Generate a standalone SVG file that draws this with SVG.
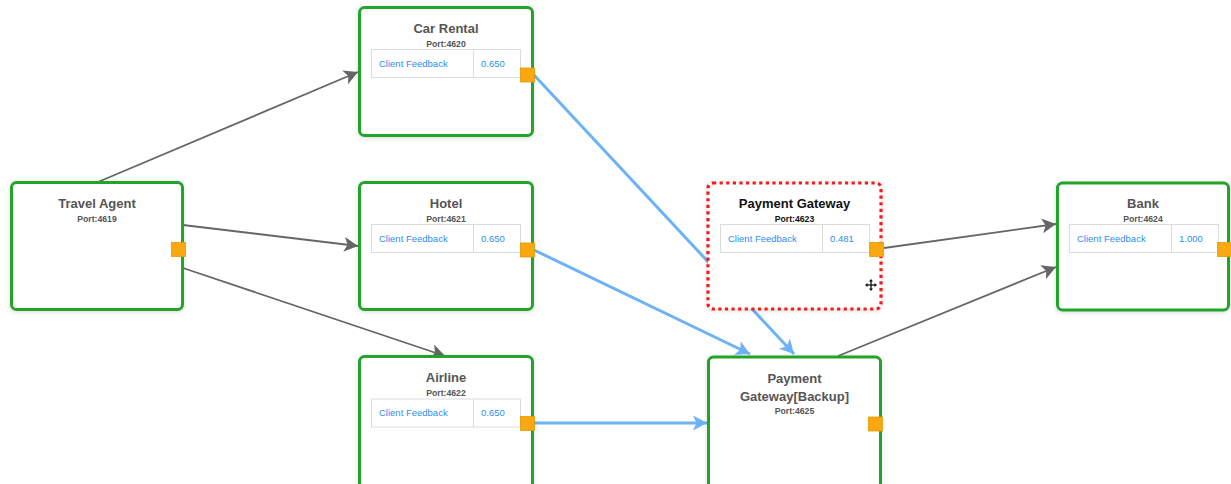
<svg xmlns="http://www.w3.org/2000/svg" width="1231" height="484" viewBox="0 0 1231 484">
<style>
.node{fill:#fff;stroke:#22a32a;stroke-width:3;filter:url(#sh)}
.sel{fill:#fff;stroke:#f21a1a;stroke-width:3.2;stroke-dasharray:3.2 3.4;filter:url(#sh)}
.title{font-family:"Liberation Sans",Arial,sans-serif;font-weight:bold;font-size:13px;fill:#555;text-anchor:middle}
.titleB{font-family:"Liberation Sans",Arial,sans-serif;font-weight:bold;font-size:13px;fill:#111;text-anchor:middle}
.port{font-family:"Liberation Sans",Arial,sans-serif;font-weight:bold;font-size:8.7px;fill:#555;text-anchor:middle}
.portB{font-family:"Liberation Sans",Arial,sans-serif;font-weight:bold;font-size:8.7px;fill:#111;text-anchor:middle}
.tbl{fill:#fff;stroke:#dcdcdc;stroke-width:1}
.cell{font-family:"Liberation Sans",Arial,sans-serif;font-size:9.5px;fill:#2b8ef0}
.sq{fill:#f9a90f;stroke:#e39a08;stroke-width:0.8}
.gray{fill:none;stroke:#666;stroke-width:1.8}
.blue{fill:none;stroke:#6cb2f5;stroke-width:3}
</style>
<defs>
<filter id="sh" x="-10%" y="-10%" width="120%" height="120%">
<feDropShadow dx="0" dy="1" stdDeviation="2" flood-color="#000" flood-opacity="0.15"/>
</filter>
<marker id="ag" markerUnits="userSpaceOnUse" markerWidth="18" markerHeight="18" refX="14" refY="7.5" orient="auto">
<path d="M0,0 L14,7.5 L0,15 L3.5,7.5 z" fill="#666"/>
</marker>
<marker id="ab" markerUnits="userSpaceOnUse" markerWidth="18" markerHeight="18" refX="14" refY="7.5" orient="auto">
<path d="M0,0 L14,7.5 L0,15 L3.5,7.5 z" fill="#6cb2f5"/>
</marker>
</defs>
<rect width="1231" height="484" fill="#fff"/>
<g id="connectors">
<path class="gray" d="M98,182 L358,72" marker-end="url(#ag)"/>
<path class="gray" d="M183,225 L358,246" marker-end="url(#ag)"/>
<path class="gray" d="M183,268 L445,356" marker-end="url(#ag)"/>
<path class="gray" d="M884,248 L1056,224" marker-end="url(#ag)"/>
<path class="gray" d="M838,356 L1056,267" marker-end="url(#ag)"/>
<path class="blue" d="M534,75 L794,354" marker-end="url(#ab)"/>
<path class="blue" d="M534,250 L750,354" marker-end="url(#ab)"/>
<path class="blue" d="M534,423 L707,423" marker-end="url(#ab)"/>
</g>
<g id="travel-agent">
<rect class="node" x="11.5" y="182.5" width="171" height="127" rx="5"/>
<text class="title" x="97" y="207.5">Travel Agent</text>
<text class="port" x="97" y="221.5">Port:4619</text>
<rect class="sq" x="171.5" y="242.5" width="14" height="14"/>
</g>
<g id="car-rental">
<rect class="node" x="359.5" y="7.5" width="173" height="128" rx="5"/>
<text class="title" x="446" y="33">Car Rental</text>
<text class="port" x="446" y="46.5">Port:4620</text>
<rect class="tbl" x="371.5" y="49.5" width="149" height="28"/>
<line x1="473.5" y1="49.5" x2="473.5" y2="77.5" stroke="#dcdcdc"/>
<text class="cell" x="379" y="66.5">Client Feedback</text>
<text class="cell" x="481" y="66.5">0.650</text>
<rect class="sq" x="520.5" y="68" width="14" height="14"/>
</g>
<g id="hotel">
<rect class="node" x="359.5" y="182.5" width="173" height="127" rx="5"/>
<text class="title" x="446" y="208">Hotel</text>
<text class="port" x="446" y="221.5">Port:4621</text>
<rect class="tbl" x="371.5" y="224.5" width="149" height="28"/>
<line x1="473.5" y1="224.5" x2="473.5" y2="252.5" stroke="#dcdcdc"/>
<text class="cell" x="379" y="241.5">Client Feedback</text>
<text class="cell" x="481" y="241.5">0.650</text>
<rect class="sq" x="520.5" y="243" width="14" height="14"/>
</g>
<g id="airline">
<rect class="node" x="359.5" y="356.5" width="173" height="140" rx="5"/>
<text class="title" x="446" y="382">Airline</text>
<text class="port" x="446" y="396">Port:4622</text>
<rect class="tbl" x="371.5" y="399" width="149" height="28"/>
<line x1="473.5" y1="399" x2="473.5" y2="427" stroke="#dcdcdc"/>
<text class="cell" x="379" y="416">Client Feedback</text>
<text class="cell" x="481" y="416">0.650</text>
<rect class="sq" x="520.5" y="416.5" width="14" height="14"/>
</g>
<g id="payment-gateway">
<rect class="sel" x="708" y="183" width="173" height="126" rx="5"/>
<text class="titleB" x="794.5" y="207.5">Payment Gateway</text>
<text class="portB" x="794.5" y="221.5">Port:4623</text>
<rect class="tbl" x="720.5" y="224.5" width="149" height="28"/>
<line x1="822.5" y1="224.5" x2="822.5" y2="252.5" stroke="#dcdcdc"/>
<text class="cell" x="728" y="241.5">Client Feedback</text>
<text class="cell" x="830" y="241.5">0.481</text>
<rect class="sq" x="869.5" y="242.5" width="14" height="14"/>
<g id="move-cursor" stroke="#111" stroke-width="1.3" fill="#111">
<line x1="871" y1="280" x2="871" y2="290"/>
<line x1="866" y1="285" x2="876" y2="285"/>
<path d="M871,279 L869,281.5 L873,281.5 z M871,291 L869,288.5 L873,288.5 z M865,285 L867.5,283 L867.5,287 z M877,285 L874.5,283 L874.5,287 z" stroke="none"/>
</g>
</g>
<g id="payment-gateway-backup">
<rect class="node" x="708.5" y="357" width="172" height="140" rx="5"/>
<text class="title" x="794.5" y="382.5">Payment</text>
<text class="title" x="794.5" y="401">Gateway[Backup]</text>
<text class="port" x="794.5" y="414">Port:4625</text>
<rect class="sq" x="868.5" y="417" width="14" height="14"/>
</g>
<g id="bank">
<rect class="node" x="1057.5" y="183" width="171" height="127" rx="5"/>
<text class="title" x="1143" y="207.5">Bank</text>
<text class="port" x="1143" y="221.5">Port:4624</text>
<rect class="tbl" x="1069.5" y="224.5" width="149" height="28"/>
<line x1="1171.5" y1="224.5" x2="1171.5" y2="252.5" stroke="#dcdcdc"/>
<text class="cell" x="1077" y="241.5">Client Feedback</text>
<text class="cell" x="1179" y="241.5">1.000</text>
<rect class="sq" x="1217.5" y="242.5" width="14" height="14"/>
</g>
</svg>
